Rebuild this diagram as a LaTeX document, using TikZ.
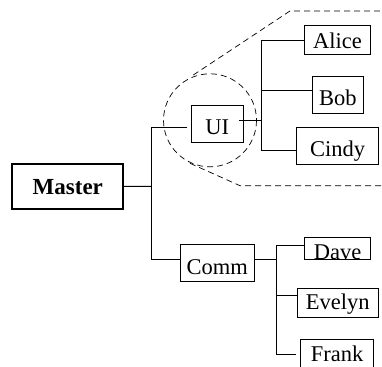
\documentclass[tikz,border=0pt]{standalone}
\usepackage{fontspec}
\setmainfont{Liberation Serif}
\begin{document}
\begin{tikzpicture}[x=1pt,y=-1pt,
  every node/.style={font=\fontsize{22.5}{27}\selectfont},
  box/.style={draw, line width=1pt, inner sep=0pt, outer sep=0pt, anchor=north west},
  masterbox/.style={box, line width=2pt, font=\fontsize{23}{27}\selectfont\bfseries},
  conn/.style={line width=1pt},
  zoomline/.style={line width=0.7pt, dash pattern=on 6pt off 4pt}]
\useasboundingbox (0,0) rectangle (382,366);
\clip (0,0) rectangle (382,366);
% boxes
\node[masterbox, minimum width=111pt, text height=30pt, text depth=15pt] (master) at (12.3,164) {Master};
\node[box, minimum width=51.3pt, text height=29pt, text depth=7.7pt] (ui) at (191.7,106) {UI};
\node[box, minimum width=66.4pt, text height=22.6pt, text depth=6.7pt] (alice) at (304.3,25.7) {Alice};
\node[box, minimum width=51pt, text height=29.3pt, text depth=7.3pt] (bob) at (312.3,76.7) {Bob};
\node[box, minimum width=81.6pt, text height=29pt, text depth=7.6pt] (cindy) at (296.7,127.7) {Cindy};
\node[box, minimum width=73.3pt, text height=29.7pt, text depth=7pt] (comm) at (180.7,244.3) {Comm};
\node[box, minimum width=66.4pt, text height=21.7pt, text depth=0pt] (dave) at (304.3,237.3) {Dave};
\node[box, minimum width=81pt, text height=20.7pt, text depth=8.3pt] (evelyn) at (297.3,288.3) {Evelyn};
\node[box, minimum width=72.6pt, text height=22.4pt, text depth=10pt] (frank) at (300.7,339.3) {Frank};
% junction coordinates
\coordinate (jm) at (151.7,186.3);
\coordinate (jui) at (151.7,127.7);
\coordinate (uiend) at (187.3,127.7);
\coordinate (jcomm) at (151.7,259);
\coordinate (uiout) at (239,120.7);
\coordinate (jr) at (261,120.7);
\coordinate (ja) at (261,40.7);
\coordinate (jb) at (261,90.7);
\coordinate (jc) at (261,150);
\coordinate (cout) at (254,259);
\coordinate (jd) at (276,245);
\coordinate (jcr) at (276,259);
\coordinate (je) at (276,295.7);
\coordinate (jf) at (276,354);
\coordinate (fend) at (295.7,354);
% connectors
\draw[conn] (master.east) -- (jm);
\draw[conn] (uiend) -- (jui) -- (jcomm) -- (comm.west |- jcomm);
\draw[conn] (uiout) -- (jr);
\draw[conn] (alice.west |- ja) -- (ja) -- (jc) -- (cindy.west |- jc);
\draw[conn] (jb) -- (bob.west |- jb);
\draw[conn] (cout) -- (jcr);
\draw[conn] (dave.west |- jd) -- (jd) -- (jf) -- (fend);
\draw[conn] (je) -- (evelyn.west |- je);
% zoom indication
\coordinate (zc) at (210,120.3);
\draw[zoomline] (zc) circle (46.5);
\coordinate (zu1) at (193.3,75);
\coordinate (zu2) at (290,11);
\coordinate (zu3) at (382,11);
\coordinate (zl1) at (190,163.3);
\coordinate (zl2) at (240,185.7);
\coordinate (zl3) at (382,185.7);
\draw[zoomline] (zu1) -- (zu2) -- (zu3);
\draw[zoomline] (zl1) -- (zl2) -- (zl3);
\end{tikzpicture}
\end{document}
